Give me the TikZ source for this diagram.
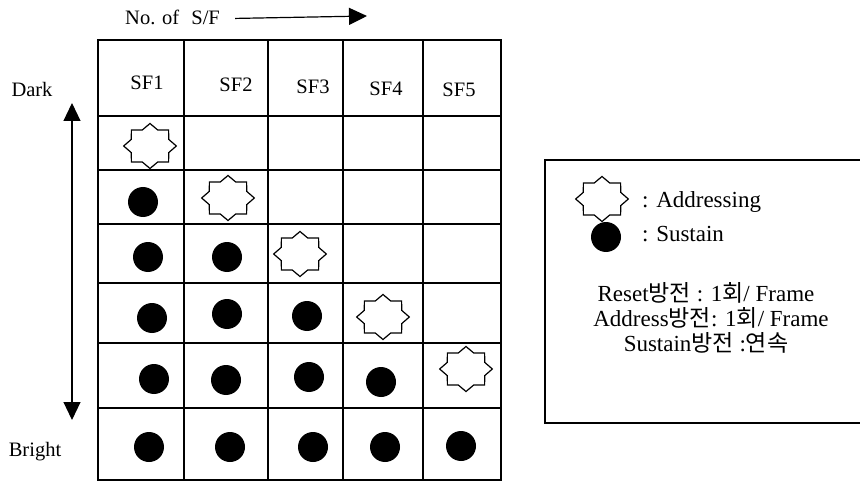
\documentclass[tikz,border=0pt]{standalone}
\usepackage{fontspec}
\setmainfont{Liberation Serif}
\newfontfamily\kr{Noto Sans CJK KR}
\usetikzlibrary{shapes.geometric,arrows.meta}
\tikzset{
  gridline/.style={line width=1.4pt},
  addr/.style={star, star points=8, star point ratio=1.3, minimum size=45pt, inner sep=0pt, draw, line width=1.2pt, fill=white},
  sus/.style={circle, fill=black, minimum size=30pt, inner sep=0pt},
  lbl/.style={font=\fontsize{20.5}{23}\selectfont, inner sep=0pt},
  leg/.style={font=\fontsize{23}{25}\selectfont, inner sep=0pt},
  tip/.style={Triangle[length=18pt,width=17pt]},
  bigarrow/.style={line width=1.2pt, -{Triangle[length=18pt,width=17pt]}},
  dblarrow/.style={line width=1.2pt, {Triangle[length=18pt,width=17pt]}-{Triangle[length=18pt,width=17pt]}},
}
\newcommand{\addrstar}[2]{\begin{scope}[shift={#2}]\node[addr, xscale=1.17, transform shape] (#1) at (0,0) {};\end{scope}}
\begin{document}
\begin{tikzpicture}[x=1pt,y=-1pt]
\useasboundingbox (0,0) rectangle (860,484);
% grid
\draw[gridline] (98,40) rectangle (501,480);
\foreach \x in {184,268,343,423} \draw[gridline] (\x,40) -- (\x,480);
\foreach \y in {116,170,224,283,343,408} \draw[gridline] (98,\y) -- (501,\y);
% header labels
\node[lbl] (sf1) at (147,83) {SF1};
\node[lbl] (sf2) at (236,85) {SF2};
\node[lbl] (sf3) at (313,87) {SF3};
\node[lbl] (sf4) at (386,89) {SF4};
\node[lbl] (sf5) at (459,90) {SF5};
% axis labels
\node[lbl, anchor=base west] (nsf) at (125,25) {No. of\hspace{7pt} S/F};
\coordinate (nsfend) at (367,16);
\draw[bigarrow] ([xshift=15pt,yshift=-0.5pt]nsf.east) -- (nsfend);
\node[lbl, anchor=base] (dark) at (32,97) {Dark};
\node[lbl, anchor=base] (bright) at (35,456) {Bright};
\coordinate (atop) at (72,103);
\coordinate (abot) at (72,420);
\draw[dblarrow] (atop) -- (abot);
% row 1
\addrstar{a11}{(150,146)}
% row 2
\node[sus] (s21) at (143,202) {};
\addrstar{a22}{(228,198)}
% row 3
\node[sus] (s31) at (148,257) {};
\node[sus] (s32) at (227,257) {};
\addrstar{a33}{(300,254)}
% row 4
\node[sus] (s41) at (152,318) {};
\node[sus] (s42) at (227,314) {};
\node[sus] (s43) at (307,316) {};
\addrstar{a44}{(383,317)}
% row 5
\node[sus] (s51) at (154,379) {};
\node[sus] (s52) at (226,380) {};
\node[sus] (s53) at (309,377) {};
\node[sus] (s54) at (381,382) {};
\addrstar{a55}{(466,369)}
% row 6
\node[sus] (s61) at (149,447) {};
\node[sus] (s62) at (230,447) {};
\node[sus] (s63) at (313,447) {};
\node[sus] (s64) at (385,447) {};
\node[sus] (s65) at (461,446) {};
% legend
\draw[gridline] (860,160) -- (545,160) -- (545,423) -- (860,423);
\addrstar{legA}{(602,199)}
\node[sus] (legS) at (606,237) {};
\node[leg, anchor=west] (legAt) at (642,202) {: Addressing};
\node[leg, anchor=west] (legSt) at (642,234) {: Sustain};
\node[leg] (r1) at (706,293) {Reset{\kr 방전} : 1{\kr 회}/ Frame};
\node[leg] (r2) at (711,318) {Address{\kr 방전}: 1{\kr 회}/ Frame};
\node[leg] (r3) at (706,343) {Sustain{\kr 방전} :{\kr 연속}};
\end{tikzpicture}
\end{document}
